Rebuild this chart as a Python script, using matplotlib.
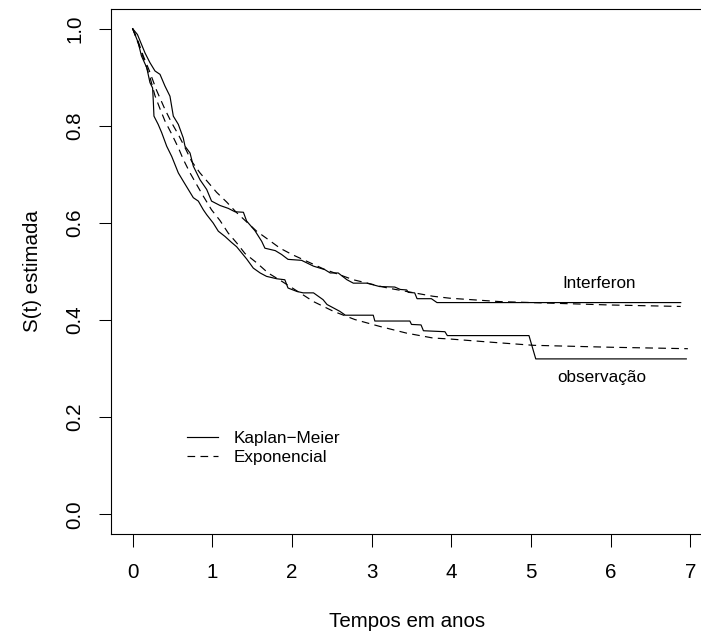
import matplotlib
matplotlib.use("Agg")
import matplotlib.pyplot as plt

# Kaplan-Meier, grupo Interferon (tempo, S(t))
km_ifn_t = [0, 0.06, 0.155, 0.217, 0.28, 0.343, 0.405, 0.468, 0.51, 0.573, 0.635,
            0.657, 0.72, 0.761, 0.845, 0.929, 0.99, 1.096, 1.2, 1.284, 1.39, 1.43,
            1.535, 1.62, 1.66, 1.79, 1.87, 1.95, 2.12, 2.27, 2.41, 2.48, 2.58, 2.69,
            2.77, 2.94, 3.1, 3.29, 3.36, 3.44, 3.46, 3.54, 3.57, 3.75, 3.82, 6.88]
km_ifn_s = [1.0, 0.988, 0.950, 0.930, 0.913, 0.906, 0.882, 0.861, 0.820, 0.803, 0.775,
            0.758, 0.744, 0.717, 0.689, 0.669, 0.645, 0.636, 0.630, 0.623, 0.622, 0.604,
            0.584, 0.562, 0.548, 0.543, 0.535, 0.525, 0.523, 0.511, 0.504, 0.497, 0.497, 0.483,
            0.476, 0.476, 0.469, 0.468, 0.463, 0.462, 0.457, 0.456, 0.444, 0.444, 0.436, 0.436]

# Kaplan-Meier, grupo observacao
km_obs_t = [0, 0.07, 0.11, 0.176, 0.217, 0.25, 0.26, 0.267, 0.32, 0.364, 0.427, 0.49,
            0.573, 0.635, 0.698, 0.761, 0.824, 0.887, 0.929, 1.01, 1.075, 1.16, 1.24,
            1.305, 1.37, 1.43, 1.514, 1.6, 1.68, 1.81, 1.91, 1.95, 2.06, 2.14, 2.27, 2.39,
            2.44, 2.52, 2.6, 2.67, 3.02, 3.04, 3.48, 3.50, 3.62, 3.65, 3.92, 3.95, 4.975,
            5.06, 6.95]
km_obs_s = [1.0, 0.971, 0.944, 0.920, 0.889, 0.878, 0.847, 0.820, 0.803, 0.786, 0.758, 0.737,
            0.703, 0.686, 0.669, 0.652, 0.645, 0.627, 0.617, 0.600, 0.583, 0.572, 0.560,
            0.551, 0.538, 0.526, 0.507, 0.497, 0.490, 0.485, 0.483, 0.466, 0.459, 0.456, 0.456, 0.442,
            0.432, 0.425, 0.418, 0.410, 0.410, 0.398, 0.398, 0.391, 0.390, 0.378, 0.376, 0.368, 0.368,
            0.320, 0.320]

# Ajuste exponencial
exp_ifn_t = [0, 0.06, 0.133, 0.21, 0.3, 0.405, 0.49, 0.573, 0.657, 0.74, 0.845, 0.95,
             1.054, 1.18, 1.3, 1.556, 1.70, 1.85, 2.0, 2.4, 2.77, 3.2, 3.77, 3.98, 4.61,
             5.01, 6.0, 6.88]
exp_ifn_s = [1.0, 0.978, 0.944, 0.913, 0.873, 0.834, 0.806, 0.782, 0.755, 0.727, 0.703, 0.683,
             0.663, 0.643, 0.622, 0.583, 0.566, 0.548, 0.535, 0.505, 0.483, 0.466, 0.449, 0.445, 0.438,
             0.436, 0.431, 0.428]

exp_obs_t = [0, 0.08, 0.155, 0.217, 0.28, 0.343, 0.405, 0.49, 0.573, 0.635, 0.72, 0.803,
             0.887, 0.99, 1.096, 1.2, 1.305, 1.41, 1.556, 1.70, 1.87, 2.1, 2.27, 2.52, 2.79,
             3.1, 3.44, 3.77, 3.98, 4.53, 5.03, 6.0, 6.97]
exp_obs_s = [1.0, 0.965, 0.930, 0.900, 0.862, 0.835, 0.810, 0.783, 0.755, 0.731, 0.703, 0.679,
             0.655, 0.627, 0.605, 0.579, 0.559, 0.537, 0.518, 0.497, 0.480, 0.456, 0.438, 0.418, 0.401,
             0.387, 0.373, 0.363, 0.361, 0.354, 0.348, 0.344, 0.341]

x_ticks = [0, 1, 2, 3, 4, 5, 6, 7]
y_ticks = [0.0, 0.2, 0.4, 0.6, 0.8, 1.0]
y_tick_labels = ["0.0", "0.2", "0.4", "0.6", "0.8", "1.0"]
legend_labels = ["Kaplan\u2212Meier", "Exponencial"]

plt.rcParams.update({
    "font.family": ["Liberation Sans", "DejaVu Sans"],
    "font.size": 14.8,
    "axes.linewidth": 0.8,
})

fig = plt.figure(figsize=(7.01, 6.35), dpi=100)
fig.patch.set_facecolor("white")
# box runs a little past the right edge, as in the cropped original
ax = fig.add_axes([110.7 / 701, 101.3 / 635, 593.6 / 701, 524.4 / 635])

lw = 0.85
dash = (6.5, 4.5)
ax.plot(km_ifn_t, km_ifn_s, color="black", lw=lw, label=legend_labels[0])
ax.plot(km_obs_t, km_obs_s, color="black", lw=lw)
ax.plot(exp_ifn_t, exp_ifn_s, color="black", lw=lw, linestyle=(0, dash), label=legend_labels[1])
ax.plot(exp_obs_t, exp_obs_s, color="black", lw=lw, linestyle=(0, dash))

ax.set_xlim(-0.276, 7.176)
ax.set_ylim(-0.04, 1.04)
ax.set_xticks(x_ticks)
ax.set_yticks(y_ticks)
ax.set_yticklabels(y_tick_labels, rotation=90, va="center")
ax.tick_params(direction="out", length=9, width=0.75)
ax.tick_params(axis="x", pad=12)
ax.tick_params(axis="y", pad=10)

ax.set_xlabel("Tempos em anos", labelpad=22)
ax.set_ylabel("S(t) estimada", labelpad=17)

ax.text(5.85, 0.476, "Interferon", ha="center", va="center", fontsize=12.3)
ax.text(5.89, 0.282, "observa\u00e7\u00e3o", ha="center", va="center", fontsize=12.3)

ax.legend(loc="upper left", bbox_to_anchor=(0.68, 0.172), bbox_transform=ax.transData,
          frameon=False, fontsize=12.3, handlelength=1.8, handletextpad=0.95,
          labelspacing=0.25, borderpad=0, borderaxespad=0)

fig.savefig("out.png", dpi=100, facecolor="white")
